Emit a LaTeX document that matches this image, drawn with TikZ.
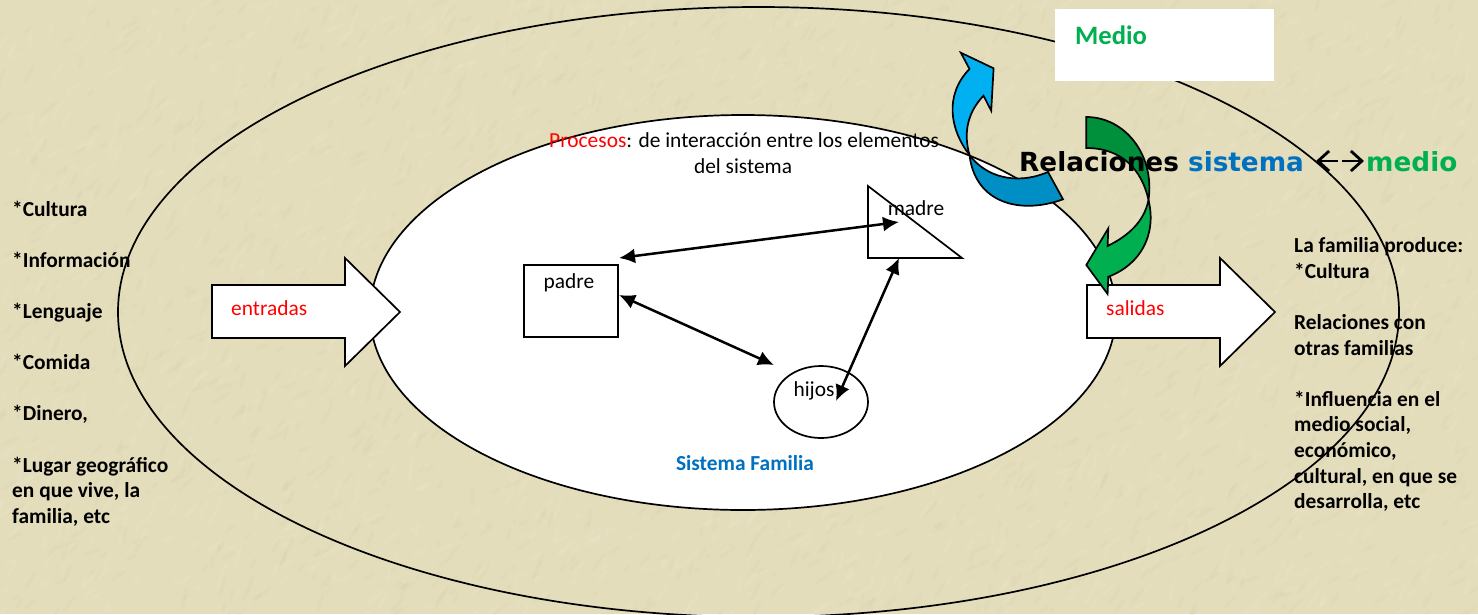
\documentclass[tikz,border=0pt]{standalone}
\usepackage{fontspec}
\setmainfont{Carlito}
\newfontfamily\relfont{DejaVu Sans}
\definecolor{bgtan}{HTML}{E3DDBC}
\definecolor{bgdark}{HTML}{CDC59B}
\definecolor{bglite}{HTML}{F3EED6}
\definecolor{medgreen}{HTML}{00B050}
\definecolor{darkgreen}{HTML}{008F3A}
\definecolor{sysblue}{HTML}{0070C0}
\definecolor{liteblue}{HTML}{00B0F0}
\definecolor{darkblue}{HTML}{008FC4}
\usetikzlibrary{arrows.meta,shapes.geometric}
\tikzset{
  px/.style={x=1pt,y=-1pt},
  line/.style={draw=black,line width=1.7pt},
  whitefill/.style={line,fill=white},
  link/.style={draw=black,line width=2.5pt,{Latex[length=16pt,width=15pt]}-{Latex[length=16pt,width=15pt]}},
  plain/.style={font=\fontsize{21.4}{21.4}\selectfont,text=black,inner sep=0pt,anchor=base},
  side/.style={font=\fontsize{21.4}{25.6}\selectfont\bfseries,text=black,inner sep=0pt,anchor=north west,align=left},
  reltext/.style={font=\fontsize{26.3}{26.3}\relfont\bfseries,inner sep=0pt,anchor=base west},
  barb/.style={line width=2.8pt,-{Straight Barb[length=11pt,width=20pt]}},
  curve/.style={draw=black,line width=1.7pt,line join=miter},
}
\begin{document}
\begin{tikzpicture}[px]
\useasboundingbox (0,0) rectangle (1478,614);
\fill[bgtan] (0,0) rectangle (1478,614);
\clip (0,0) rectangle (1478,614);
% stone texture of the background
\pgfmathsetseed{7}
\foreach \i in {1,...,1600}{
  \pgfmathsetmacro\xa{rnd*1478}
  \pgfmathsetmacro\ya{rnd*614}
  \pgfmathsetmacro\ang{20+rnd*60}
  \pgfmathsetmacro\ra{3+rnd*9}
  \fill[bgdark,opacity=.10] (\xa,\ya) ellipse [x radius=\ra,y radius=2,rotate=\ang];
  \pgfmathsetmacro\xa{rnd*1478}
  \pgfmathsetmacro\ya{rnd*614}
  \fill[bglite,opacity=.14] (\xa,\ya) ellipse [x radius=\ra,y radius=2,rotate=\ang];
}
\draw[line] (758.5,312) ellipse [x radius=640.5,y radius=305];
\draw[whitefill] (743,312.5) ellipse [x radius=373,y radius=197.5];
% Medio box
\node[fill=white,minimum width=219pt,minimum height=72pt,inner sep=0pt] (mediobox) at (1164.5,45) {};
\node[plain,font=\fontsize{26.6}{26.6}\selectfont\bfseries,text=medgreen,anchor=base west] (medio) at (1075,44) {Medio};
% block arrows
\draw[whitefill,miter limit=10] (212,285) -- (345,285) -- (345,258) -- (400,312) -- (345,366) -- (345,338) -- (212,338) -- cycle;
\draw[whitefill] (1087,285) -- (1220,285) -- (1220,258) -- (1275,312) -- (1220,366) -- (1220,338) -- (1087,338) -- cycle;
\node[plain,text=red,anchor=base west] (entradas) at (231,315) {entradas};
\node[plain,text=red,anchor=base west] (salidas) at (1106,315) {salidas};
% shapes
\node[draw=black,line width=1.7pt,minimum width=94pt,minimum height=72pt,inner sep=0pt] (padre) at (571,301) {};
\node[plain] (padretxt) at (569,288) {padre};
\draw[line,fill=white] (868,186) -- (962,258) -- (868,258) -- cycle;
\coordinate (madreA) at (899,222);
\coordinate (madreB) at (899,258);
\node[plain] (madretxt) at (916,215) {madre};
\node[draw=black,line width=1.7pt,ellipse,minimum width=94pt,minimum height=72pt,inner sep=0pt] (hijos) at (821,402) {};
\node[plain] (hijostxt) at (814,396) {hijos};
\coordinate (padreA) at (619,258);
\coordinate (padreB) at (619,295);
\coordinate (hijosA) at (774,365);
\coordinate (hijosB) at (836,401);
\draw[link] (padreA) -- (madreA);
\draw[link] (padreB) -- (hijosA);
\draw[link] (madreB) -- (hijosB);
% texts
\node[plain,anchor=base west] (proc) at (549,147.5) {\textcolor{red}{Procesos}: de interacción entre los elementos};
\node[plain] (proc2) at (743,173.5) {del sistema};
\node[plain,font=\fontsize{21.4}{21.4}\selectfont\bfseries,text=sysblue] (sf) at (745,470) {Sistema Familia};
% curved arrows
\filldraw[curve,fill=darkblue] (969.5,155) .. controls (985,176) and (1015,186) .. (1048,172) -- (1063,199.3) .. controls (1020,215) and (975,203) .. (969.5,155) -- cycle;
\filldraw[curve,fill=liteblue] (960.8,52.7) -- (993.6,68.3) -- (991.2,110.7) -- (983.5,95.7) .. controls (968,112) and (963,132) .. (969.5,155) .. controls (950,130) and (944,95) .. (969.5,69) -- cycle;
\filldraw[curve,fill=medgreen] (1148.5,200) .. controls (1144,222) and (1128,236) .. (1107.6,246) -- (1108.3,228.3) -- (1086.3,265) -- (1107.6,294) -- (1108.3,276.7) .. controls (1140,265) and (1157,235) .. (1148.5,200) -- cycle;
\filldraw[curve,fill=darkgreen] (1086.3,117) .. controls (1125,117) and (1155,155) .. (1148.5,200) .. controls (1142,170) and (1122,148) .. (1086.3,148) -- cycle;
\node[reltext] (rel) at (1019,171) {Relaciones \textcolor{sysblue}{sistema}};
\node[reltext,text=medgreen] (med) at (1366,171) {medio};
\coordinate (dblA) at (1316,161);
\coordinate (dblD) at (1338,161);
\coordinate (dblC) at (1342,161);
\coordinate (dblB) at (1364,161);
\draw[barb] (dblD) -- (dblA);
\draw[barb] (dblC) -- (dblB);
% sides
\node[side] (left) at (12,200.5) {*Cultura\\[25.6pt]*Información\\[25.6pt]*Lenguaje\\[25.6pt]*Comida\\[25.6pt]*Dinero,\\[25.6pt]*Lugar geográfico\\en que vive, la\\familia, etc};
\node[side] (right) at (1294,237.5) {La familia produce:\\*Cultura\\[25.6pt]Relaciones con\\otras familias\\[25.6pt]*Influencia en el\\medio social,\\económico,\\cultural, en que se\\desarrolla, etc};
\end{tikzpicture}
\end{document}
